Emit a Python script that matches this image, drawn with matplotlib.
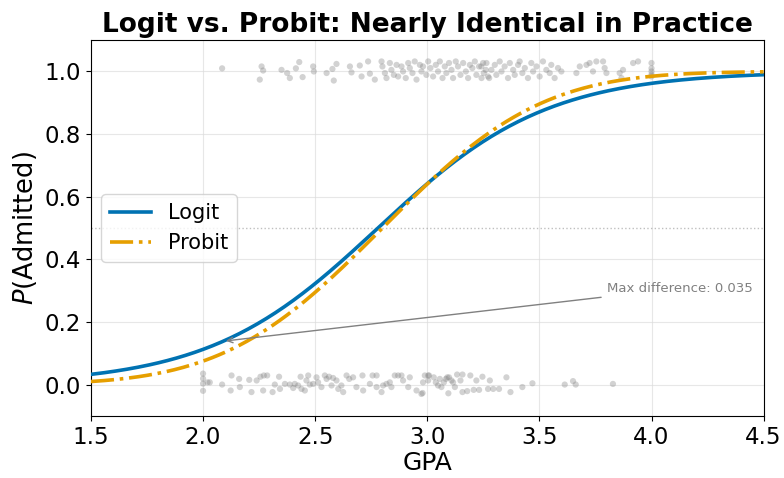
import math
import numpy as np
import matplotlib
matplotlib.use("Agg")
import matplotlib.pyplot as plt

plt.rcParams['font.family'] = 'DejaVu Sans'

# fitted model coefficients (GPA -> admission)
logit_b0, logit_b1 = -7.367, 2.65
probit_b0, probit_b1 = -5.04, 1.8

# where the two curves disagree most
max_diff_gpa = 2.09
max_diff = 0.035

# admitted students (y jittered around 1)
adm_gpa = [2.085, 2.261, 2.268, 2.253, 2.350, 2.375, 2.387, 2.414, 2.429, 2.444,
           2.491, 2.494, 2.551, 2.577, 2.583, 2.595, 2.655, 2.662, 2.699, 2.707,
           2.736, 2.744, 2.766,
           2.796, 2.800, 2.811, 2.818, 2.833, 2.840, 2.851, 2.863, 2.870, 2.885,
           2.892, 2.904, 2.915, 2.922, 2.934, 2.944, 2.952, 2.967, 2.974, 2.981,
           2.996, 3.004, 3.014, 3.026, 3.038, 3.048, 3.056, 3.068, 3.078, 3.085,
           3.097, 3.108, 3.115, 3.127, 3.137, 3.148, 3.160, 3.172, 3.182, 3.190,
           3.201, 3.212, 3.219, 3.231, 3.242, 3.249, 3.261, 3.271,
           3.241, 3.252, 3.264, 3.276, 3.286, 3.301, 3.308, 3.323, 3.331, 3.345,
           3.360, 3.368, 3.383, 3.390, 3.405, 3.412, 3.424, 3.435, 3.449, 3.464,
           3.472, 3.487, 3.501, 3.516, 3.531, 3.546, 3.553, 3.568, 3.583, 3.598,
           3.665, 3.680, 3.710, 3.724, 3.739, 3.754, 3.784, 3.791, 3.799, 3.858,
           3.866, 3.873, 3.918, 3.940, 4.0, 4.0, 4.0, 4.0, 4.0]
adm_y = [1.010, 1.016, 1.003, 0.974, 1.005, 0.995, 0.979, 1.010, 1.030, 0.982,
         1.016, 1.000, 0.995, 1.008, 0.971, 1.024, 1.016, 0.997, 1.019, 0.984,
         1.032, 0.993, 0.974,
         1.032, 1.016, 0.995, 0.979, 1.027, 1.005, 0.989, 1.021, 0.984, 1.016,
         1.000, 0.979, 1.027, 1.011, 0.995, 1.032, 0.974, 1.021, 1.000, 1.016,
         0.989, 1.032, 1.011, 0.984, 1.021, 1.000, 1.032, 0.979, 1.016, 0.995,
         1.027, 1.005, 0.979, 1.032, 1.016, 0.989, 1.027, 1.000, 0.979, 1.021,
         1.011, 1.032, 0.989, 1.016, 0.979, 1.027, 1.005, 0.984,
         1.016, 0.995, 1.027, 0.979, 1.005, 1.021, 0.989, 1.032, 1.000, 1.016,
         0.979, 1.027, 1.005, 0.989, 1.021, 1.032, 0.995, 1.011, 0.979, 1.027,
         1.000, 1.016, 0.984, 1.032, 1.005, 0.995, 1.021, 0.979, 1.011, 1.000,
         0.995, 1.016, 1.021, 1.027, 1.000, 1.032, 1.032, 1.011, 0.995, 0.995,
         0.979, 1.005, 1.027, 1.032, 1.027, 1.010, 1.000, 0.990, 0.984]

# rejected students (y jittered around 0)
rej_gpa = [2.0, 2.0, 2.0, 2.0, 2.020, 2.030, 2.085, 2.127, 2.123, 2.161,
           2.164, 2.206, 2.216, 2.239, 2.256, 2.271, 2.286, 2.268, 2.310, 2.320,
           2.339, 2.343, 2.365, 2.387, 2.402, 2.409, 2.424, 2.435, 2.439, 2.454,
           2.461, 2.469, 2.476, 2.491, 2.506, 2.513, 2.528, 2.543, 2.551, 2.562,
           2.573, 2.580, 2.595, 2.603, 2.617, 2.625, 2.640, 2.652, 2.669, 2.684,
           2.711, 2.714, 2.744, 2.756, 2.774, 2.774, 2.796, 2.803, 2.818, 2.833,
           2.840, 2.855, 2.870, 2.885, 2.892, 2.915, 2.922, 2.952, 2.974, 2.981,
           3.004, 2.979, 2.989, 3.008, 3.029, 3.004, 3.038, 3.048, 3.056, 3.063,
           3.074, 3.083, 3.089, 3.097, 3.094, 3.108, 3.115, 3.123, 3.133, 3.148,
           3.157, 3.157, 3.178, 3.192, 3.207, 3.219, 3.231, 3.246, 3.271, 3.279,
           3.294, 3.320, 3.353, 3.371, 3.424, 3.469, 3.613, 3.650, 3.662, 3.828]
rej_y = [0.035, 0.019, 0.003, -0.020, 0.007, 0.007, 0.000, 0.029, -0.019, 0.018,
         -0.008, 0.015, -0.024, 0.013, 0.025, 0.029, 0.029, -0.019, -0.024, 0.000,
         0.025, -0.014, 0.002, 0.000, -0.011, 0.002, -0.003, 0.025, -0.014, -0.019,
         0.013, 0.029, 0.000, 0.002, 0.023, 0.007, -0.008, 0.029, 0.018, 0.025,
         -0.003, 0.021, 0.013, -0.014, -0.003, -0.024, 0.029, 0.018, 0.023, -0.008,
         0.029, -0.019, 0.002, 0.029, 0.029, -0.008, -0.024, -0.003, 0.002, 0.007,
         -0.008, 0.029, 0.029, 0.029, 0.013, -0.008, 0.023, -0.019, -0.030, 0.007,
         0.029, -0.027, 0.029, 0.029, 0.023, 0.013, 0.007, -0.003, 0.018, -0.008,
         0.007, 0.018, 0.023, 0.023, -0.028, 0.013, 0.007, -0.008, 0.032, 0.013,
         0.032, -0.024, -0.021, 0.029, -0.017, 0.013, -0.017, 0.025, -0.014, 0.013,
         -0.014, -0.014, 0.023, -0.024, -0.008, 0.004, 0.000, 0.011, 0.000, 0.002]


def logit_curve(x):
    return 1.0 / (1.0 + np.exp(-(logit_b0 + logit_b1 * x)))


def probit_curve(x):
    z = probit_b0 + probit_b1 * np.asarray(x)
    return 0.5 * (1.0 + np.vectorize(math.erf)(z / math.sqrt(2.0)))


gpa_grid = np.linspace(1.5, 4.5, 300)

fig, ax = plt.subplots(figsize=(7.84, 4.78), dpi=100)
fig.subplots_adjust(left=0.116, right=0.974, top=0.916, bottom=0.130)

ax.scatter(adm_gpa, adm_y, s=20, color='gray', alpha=0.35, edgecolors='none', zorder=2)
ax.scatter(rej_gpa, rej_y, s=20, color='gray', alpha=0.35, edgecolors='none', zorder=2)

ax.plot(gpa_grid, logit_curve(gpa_grid), color='#0072B2', lw=2.6, label='Logit', zorder=3)
ax.plot(gpa_grid, probit_curve(gpa_grid), color='#E69F00', lw=2.6, ls='-.',
        label='Probit', zorder=3)

ax.axhline(0.5, color='gray', ls=':', lw=1, alpha=0.5, zorder=1)

ax.annotate(f"Max difference: {max_diff:.3f}",
            xy=(max_diff_gpa, float(logit_curve(max_diff_gpa))),
            xytext=(3.8, 0.287), fontsize=9.5, color='gray', ha='left', va='bottom',
            arrowprops=dict(arrowstyle='->', color='gray', lw=1))

ax.set_xlim(1.5, 4.5)
ax.set_ylim(-0.1, 1.1)
ax.set_xticks([1.5, 2.0, 2.5, 3.0, 3.5, 4.0, 4.5])
ax.set_yticks([0.0, 0.2, 0.4, 0.6, 0.8, 1.0])
ax.tick_params(labelsize=16.5)
ax.grid(True, color='#dddddd', lw=0.8, alpha=0.7)
ax.set_axisbelow(True)

ax.set_xlabel("GPA", fontsize=18, labelpad=2)
ax.set_ylabel("$P$(Admitted)", fontsize=18.5)
ax.set_title("Logit vs. Probit: Nearly Identical in Practice", fontsize=19,
             fontweight='bold')
ax.legend(loc='center left', fontsize=15)

fig.savefig("out.png", dpi=100)
